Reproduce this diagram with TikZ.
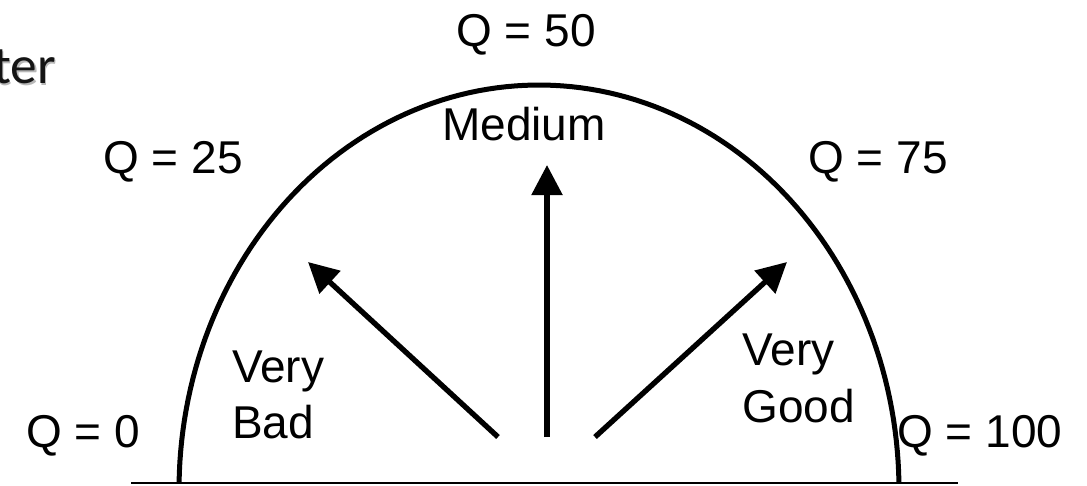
\documentclass[tikz,border=0pt]{standalone}
\usepackage{fontspec}
\setmainfont{Liberation Sans}
\newfontfamily\calib{Carlito}
\usetikzlibrary{arrows.meta}
\begin{document}
\begin{tikzpicture}[x=0.75pt,y=-0.75pt,
  lbl/.style={inner sep=0pt,font=\fontsize{34.5}{41.4}\selectfont},
  ptr/.style={line width=4pt,-{Triangle[length=22.5pt,width=22.5pt]}},
  rim/.style={line width=3.75pt},
  ground/.style={line width=2pt},
  frag/.style={anchor=base west,inner sep=0pt,font=\calib\fontsize{40}{48}\selectfont}]
\useasboundingbox (0,0) rectangle (1087,485);
% cropped title fragment with shadow
\node[frag,text=black!28] at (-5.5,85.5) {ter};
\node[frag,text=black!92] (title) at (-7,84) {ter};
% ground line
\coordinate (gl) at (131,483);
\coordinate (gr) at (958,483);
\draw[ground] (gl) -- (gr);
% half-elliptic rim
\draw[rim] plot[domain=1:179,samples=120] ({539+360*cos(\x)},{490-405*sin(\x)});
% arrows
\coordinate (sL) at (498,437);
\coordinate (sM) at (547,437);
\coordinate (sR) at (595,437);
\coordinate (tL) at (308,262);
\coordinate (tM) at (547,165);
\coordinate (tR) at (787,262);
\draw[ptr] (sL) -- (tL);
\draw[ptr] (sM) -- (tM);
\draw[ptr] (sR) -- (tR);
% labels
\node[lbl,anchor=base] (q50) at (526,47) {Q = 50};
\node[lbl,anchor=base] (med) at (524,140) {Medium};
\node[lbl,anchor=base west] (q25) at (103,173) {Q = 25};
\node[lbl,anchor=base west] (q75) at (808,173) {Q = 75};
\node[lbl,anchor=base west] (q0) at (26,447) {Q = 0};
\node[lbl,anchor=base west] (q100) at (897,447) {Q = 100};
\node[lbl,anchor=base west] (vb1) at (232,382) {Very};
\node[lbl,anchor=base west] (vb2) at (232,438) {Bad};
\node[lbl,anchor=base west] (vg1) at (742,365) {Very};
\node[lbl,anchor=base west] (vg2) at (742,422) {Good};
\end{tikzpicture}
\end{document}
